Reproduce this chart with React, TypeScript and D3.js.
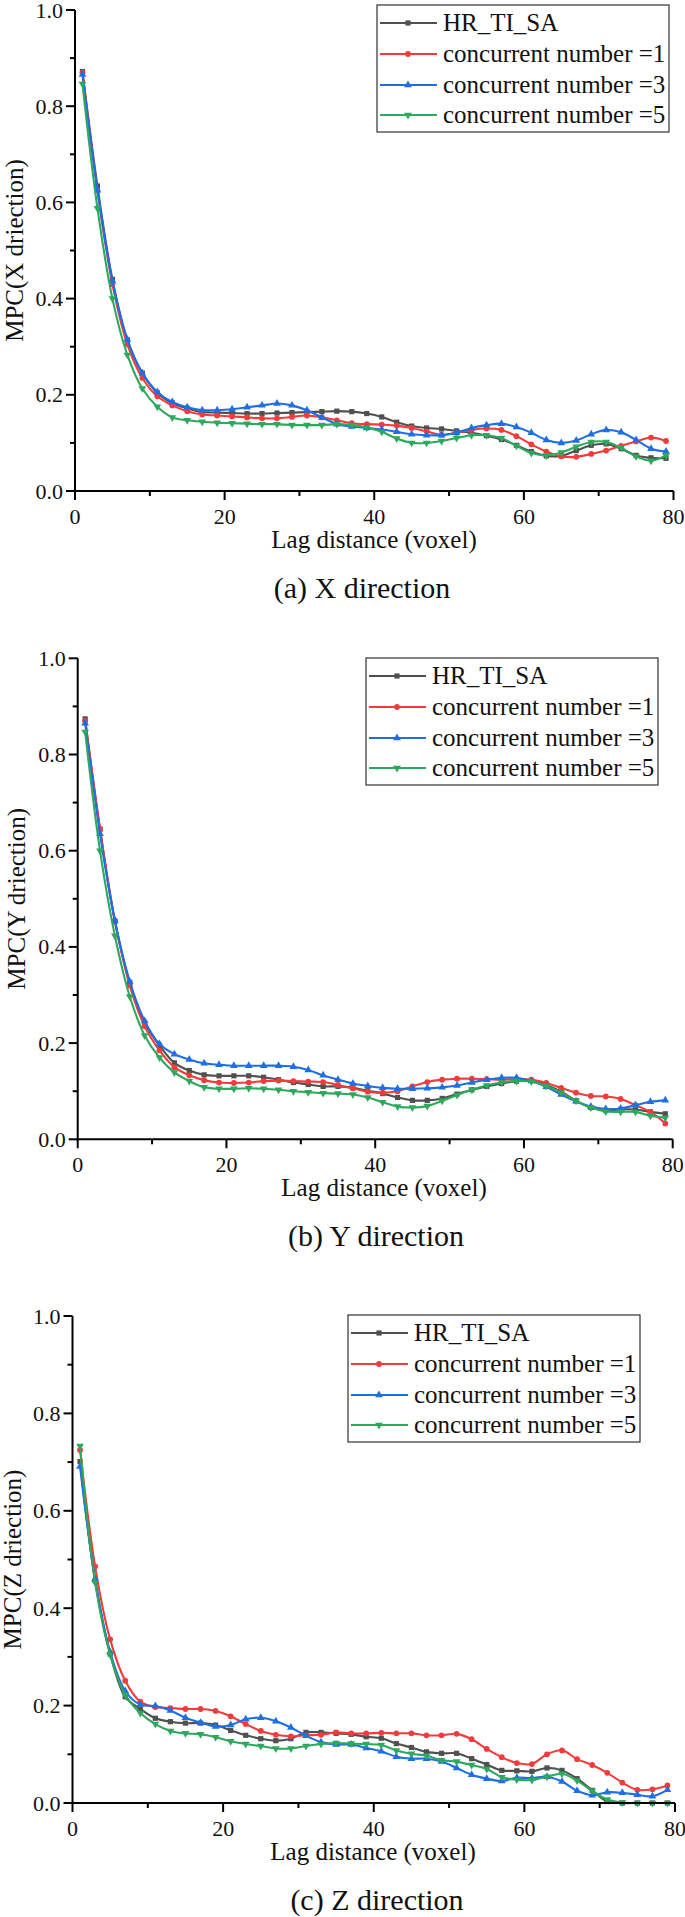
import React from "react";
import * as d3 from "d3";

const LAG = [1,3,5,7,9,11,13,15,17,19,21,23,25,27,29,31,33,35,37,39,41,43,45,47,49,51,53,55,57,59,61,63,65,67,69,71,73,75,77,79];

const SERIES_NAMES = ["HR_TI_SA", "concurrent number =1", "concurrent number =3", "concurrent number =5"];

const X_GRAY = [0.872,0.634,0.44,0.314,0.245,0.204,0.183,0.172,0.164,0.163,0.162,0.161,0.161,0.162,0.163,0.164,0.165,0.166,0.165,0.161,0.154,0.143,0.135,0.131,0.129,0.125,0.121,0.115,0.107,0.095,0.082,0.073,0.073,0.084,0.095,0.098,0.088,0.074,0.069,0.068];
const X_RED = [0.87,0.625,0.43,0.305,0.235,0.197,0.178,0.166,0.159,0.157,0.155,0.153,0.151,0.151,0.154,0.157,0.153,0.147,0.141,0.139,0.138,0.136,0.131,0.124,0.117,0.121,0.127,0.130,0.127,0.114,0.097,0.082,0.072,0.071,0.077,0.084,0.094,0.103,0.111,0.104];
const X_BLUE = [0.866,0.625,0.437,0.315,0.245,0.206,0.185,0.174,0.168,0.168,0.170,0.174,0.178,0.182,0.178,0.168,0.153,0.139,0.134,0.131,0.128,0.123,0.118,0.116,0.116,0.121,0.131,0.137,0.140,0.133,0.121,0.106,0.100,0.105,0.118,0.127,0.122,0.106,0.088,0.082];
const X_GREEN = [0.846,0.588,0.40,0.283,0.213,0.175,0.153,0.147,0.144,0.142,0.141,0.140,0.139,0.139,0.137,0.137,0.137,0.139,0.137,0.132,0.123,0.109,0.100,0.100,0.104,0.110,0.116,0.116,0.110,0.094,0.079,0.074,0.080,0.092,0.102,0.102,0.090,0.072,0.063,0.074];

const Y_GRAY = [0.874,0.645,0.453,0.326,0.243,0.195,0.159,0.143,0.134,0.132,0.132,0.132,0.129,0.124,0.118,0.114,0.110,0.110,0.107,0.101,0.095,0.087,0.081,0.081,0.085,0.094,0.103,0.110,0.116,0.121,0.122,0.113,0.099,0.080,0.066,0.060,0.062,0.062,0.057,0.053];
const Y_RED = [0.87,0.645,0.455,0.32,0.235,0.185,0.15,0.133,0.123,0.118,0.117,0.118,0.121,0.122,0.121,0.120,0.119,0.113,0.106,0.099,0.097,0.100,0.110,0.119,0.124,0.126,0.126,0.125,0.124,0.125,0.124,0.117,0.107,0.097,0.090,0.089,0.084,0.071,0.057,0.033];
const Y_BLUE = [0.865,0.635,0.455,0.328,0.246,0.198,0.177,0.166,0.158,0.155,0.153,0.153,0.153,0.153,0.151,0.144,0.133,0.124,0.116,0.111,0.107,0.105,0.105,0.106,0.108,0.112,0.118,0.124,0.128,0.128,0.121,0.109,0.093,0.079,0.068,0.063,0.064,0.071,0.078,0.081];
const Y_GREEN = [0.847,0.60,0.423,0.297,0.216,0.170,0.139,0.121,0.108,0.105,0.105,0.106,0.105,0.103,0.100,0.098,0.096,0.095,0.093,0.087,0.077,0.068,0.066,0.069,0.080,0.092,0.103,0.112,0.118,0.121,0.120,0.111,0.097,0.080,0.066,0.058,0.057,0.057,0.049,0.045];

const Z_GRAY = [0.701,0.457,0.306,0.218,0.193,0.174,0.167,0.164,0.164,0.160,0.149,0.139,0.132,0.128,0.132,0.145,0.145,0.143,0.141,0.136,0.133,0.122,0.114,0.105,0.102,0.102,0.091,0.079,0.067,0.066,0.065,0.072,0.067,0.050,0.026,0.003,0,0,0,0];
const Z_RED = [0.725,0.486,0.336,0.251,0.208,0.197,0.195,0.193,0.193,0.189,0.178,0.162,0.148,0.140,0.137,0.139,0.140,0.145,0.143,0.143,0.144,0.143,0.143,0.139,0.139,0.142,0.131,0.111,0.094,0.082,0.080,0.100,0.108,0.090,0.078,0.062,0.042,0.027,0.028,0.036];
const Z_BLUE = [0.691,0.46,0.31,0.23,0.202,0.199,0.19,0.175,0.165,0.157,0.16,0.172,0.175,0.168,0.155,0.138,0.125,0.12,0.12,0.113,0.106,0.095,0.091,0.091,0.085,0.072,0.058,0.050,0.045,0.052,0.051,0.054,0.044,0.025,0.016,0.022,0.021,0.017,0.014,0.027];
const Z_GREEN = [0.733,0.453,0.305,0.222,0.185,0.162,0.148,0.143,0.141,0.135,0.127,0.121,0.117,0.112,0.112,0.117,0.121,0.123,0.122,0.121,0.119,0.108,0.101,0.097,0.088,0.085,0.078,0.070,0.053,0.048,0.047,0.054,0.060,0.046,0.025,0.007,0.001,0,0,0];

const X_TICKS = [0, 20, 40, 60, 80];
const X_MINOR = [10, 30, 50, 70];
const Y_TICKS = [0, 0.2, 0.4, 0.6, 0.8, 1.0];
const Y_MINOR = [0.1, 0.3, 0.5, 0.7, 0.9];

const COLORS = ["#505050", "#f03c3c", "#1f6fe3", "#2ea85e"];
const MARKERS = ["square", "circle", "up", "down"];
const FONT = "'Liberation Serif', 'Times New Roman', serif";

const PANELS = [
  { left: 75, right: 673.5, top: 10, bottom: 491, leg: [377, 5], ylabel: "MPC(X driection)", yLabX: 23, xTitleX: 374, caption: "(a) X direction", capX: 362, data: [X_GRAY, X_RED, X_BLUE, X_GREEN] },
  { left: 77.7, right: 672.7, top: 658.3, bottom: 1139.3, leg: [366, 658], ylabel: "MPC(Y driection)", yLabX: 25, xTitleX: 384, caption: "(b) Y direction", capX: 376, data: [Y_GRAY, Y_RED, Y_BLUE, Y_GREEN] },
  { left: 72.5, right: 675, top: 1316, bottom: 1803, leg: [348, 1315], ylabel: "MPC(Z driection)", yLabX: 21, xTitleX: 373, caption: "(c) Z direction", capX: 377, data: [Z_GRAY, Z_RED, Z_BLUE, Z_GREEN] },
];

function Marker({ kind, x, y, color }: { kind: string; x: number; y: number; color: string }) {
  if (kind === "square") return <rect x={x - 2.6} y={y - 2.6} width={5.2} height={5.2} fill={color} />;
  if (kind === "circle") return <circle cx={x} cy={y} r={2.9} fill={color} />;
  const p = d3.symbol().type(d3.symbolTriangle).size(26)() as string;
  return <path d={p} transform={`translate(${x},${y})${kind === "down" ? " rotate(180)" : ""}`} fill={color} />;
}

function Panel({ cfg }: { cfg: (typeof PANELS)[number] }) {
  const x = d3.scaleLinear().domain([0, 80]).range([cfg.left, cfg.right]);
  const y = d3.scaleLinear().domain([0, 1]).range([cfg.bottom, cfg.top]);
  const line = d3
    .line<number>()
    .x((_, i) => x(LAG[i]))
    .y((v) => y(v))
    .curve(d3.curveCatmullRom.alpha(0.5));
  const [lx, ly] = cfg.leg;
  const legW = 292;
  const legH = 127;
  const rowY = [18, 49, 80, 110];
  return (
    <g>
      {cfg.data.map((vals, si) => (
        <g key={si}>
          <path d={line(vals) as string} fill="none" stroke={COLORS[si]} strokeWidth={2.1} />
          {vals.map((v, i) => (
            <Marker key={i} kind={MARKERS[si]} x={x(LAG[i])} y={y(v)} color={COLORS[si]} />
          ))}
        </g>
      ))}
      <line x1={cfg.left} x2={cfg.left} y1={cfg.top} y2={cfg.bottom + 1} stroke="#000" strokeWidth={2} />
      <line x1={cfg.left - 1} x2={cfg.right} y1={cfg.bottom} y2={cfg.bottom} stroke="#000" strokeWidth={2} />
      {X_TICKS.map((t) => (
        <g key={"xt" + t}>
          <line x1={x(t)} x2={x(t)} y1={cfg.bottom} y2={cfg.bottom + 9} stroke="#000" strokeWidth={2} />
          <text x={x(t)} y={cfg.bottom + 33} textAnchor="middle" fontFamily={FONT} fontSize={22} fill="#111">
            {t}
          </text>
        </g>
      ))}
      {X_MINOR.map((t) => (
        <line key={"xm" + t} x1={x(t)} x2={x(t)} y1={cfg.bottom} y2={cfg.bottom + 5} stroke="#000" strokeWidth={2} />
      ))}
      {Y_TICKS.map((t) => (
        <g key={"yt" + t}>
          <line x1={cfg.left - 9} x2={cfg.left} y1={y(t)} y2={y(t)} stroke="#000" strokeWidth={2} />
          <text x={cfg.left - 12} y={y(t) + 7.5} textAnchor="end" fontFamily={FONT} fontSize={22} fill="#111">
            {t.toFixed(1)}
          </text>
        </g>
      ))}
      {Y_MINOR.map((t) => (
        <line key={"ym" + t} x1={cfg.left - 5} x2={cfg.left} y1={y(t)} y2={y(t)} stroke="#000" strokeWidth={2} />
      ))}
      <text
        transform={`translate(${cfg.yLabX},${(cfg.top + cfg.bottom) / 2}) rotate(-90)`}
        textAnchor="middle"
        fontFamily={FONT}
        fontSize={25}
        fill="#111"
      >
        {cfg.ylabel}
      </text>
      <text x={cfg.xTitleX} y={cfg.bottom + 57} textAnchor="middle" fontFamily={FONT} fontSize={25} fill="#111">
        Lag distance (voxel)
      </text>
      <text x={cfg.capX} y={cfg.bottom + 107} textAnchor="middle" fontFamily={FONT} fontSize={30} fill="#111">
        {cfg.caption}
      </text>
      <rect x={lx} y={ly} width={legW} height={legH} fill="#fff" stroke="#333" strokeWidth={1.2} />
      {SERIES_NAMES.map((name, si) => (
        <g key={name}>
          <line x1={lx + 3} x2={lx + 60} y1={ly + rowY[si]} y2={ly + rowY[si]} stroke={COLORS[si]} strokeWidth={2.1} />
          <Marker kind={MARKERS[si]} x={lx + 31} y={ly + rowY[si]} color={COLORS[si]} />
          <text x={lx + 66} y={ly + rowY[si] + 8} fontFamily={FONT} fontSize={25} fill="#111">
            {name}
          </text>
        </g>
      ))}
    </g>
  );
}

export default function App() {
  return (
    <svg
      width={685}
      height={1917}
      viewBox="0 0 685 1917"
      style={{ position: "absolute", left: 0, top: 0, background: "#fff", display: "block" }}
    >
      <rect x={0} y={0} width={685} height={1917} fill="#fff" />
      {PANELS.map((p, i) => (
        <Panel key={i} cfg={p} />
      ))}
    </svg>
  );
}
